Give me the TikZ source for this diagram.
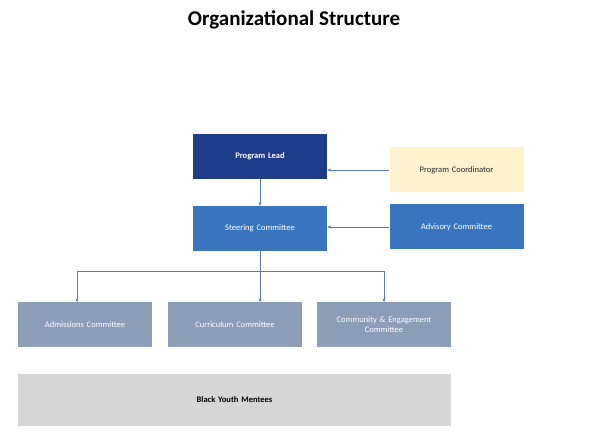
\documentclass[tikz,border=0pt]{standalone}
\usepackage{fontspec}
\setmainfont{Carlito}
\usetikzlibrary{arrows.meta}
\definecolor{navy}{HTML}{1F3C88}
\definecolor{midblue}{HTML}{3A76BF}
\definecolor{cream}{HTML}{FFF2CC}
\definecolor{greyblue}{HTML}{8C9DB8}
\definecolor{lgrey}{HTML}{D6D6D6}
\definecolor{arr}{HTML}{5A7DB0}
\begin{document}
\begin{tikzpicture}[x=1pt,y=-1pt,
  box/.style={minimum width=134pt,minimum height=45pt,inner sep=2pt,align=center,font=\fontsize{8.5}{10}\selectfont,text width=128pt},
  conn/.style={draw=arr,line width=0.6pt,-{Stealth[length=4pt,width=3pt]}}]
\useasboundingbox[fill=white] (0,0) rectangle (614,443);
\node[font=\bfseries\fontsize{21}{24}\selectfont] (title) at (294,20) {Organizational Structure};
\node[box,fill=navy,text=white,font=\bfseries\fontsize{8.5}{10}\selectfont] (lead) at (260,156.5) {Program Lead};
\node[box,fill=cream,text=black!85] (coord) at (456.5,170) {Program Coordinator};
\node[box,fill=midblue,text=white] (steer) at (260,228.5) {Steering Committee};
\node[box,fill=midblue,text=white] (adv) at (456.5,227) {Advisory Committee};
\node[box,fill=greyblue,text=white] (adm) at (85,325) {Admissions Committee};
\node[box,fill=greyblue,text=white] (cur) at (235,325) {Curriculum Committee};
\node[box,fill=greyblue,text=white] (com) at (384,325) {Community \& Engagement\\Committee};
\node[box,fill=lgrey,minimum width=433pt,text width=420pt,minimum height=52pt,font=\bfseries\fontsize{8.5}{10}\selectfont] (mentees) at (234.5,400) {Black Youth Mentees};
\coordinate (j) at (260,271);
\coordinate (jl) at (77,271);
\coordinate (jr) at (384,271);
\draw[conn] (lead) -- (steer);
\draw[conn] (coord.west) -- (coord.west -| lead.east);
\draw[conn] (adv.west) -- (adv.west -| steer.east);
\draw[draw=arr,line width=0.6pt] (steer.south) -- (j) (jl) -- (jr);
\draw[conn] (jl) -- (jl |- adm.north);
\draw[conn] (j) -- (j |- cur.north);
\draw[conn] (jr) -- (com.north);
\end{tikzpicture}
\end{document}
